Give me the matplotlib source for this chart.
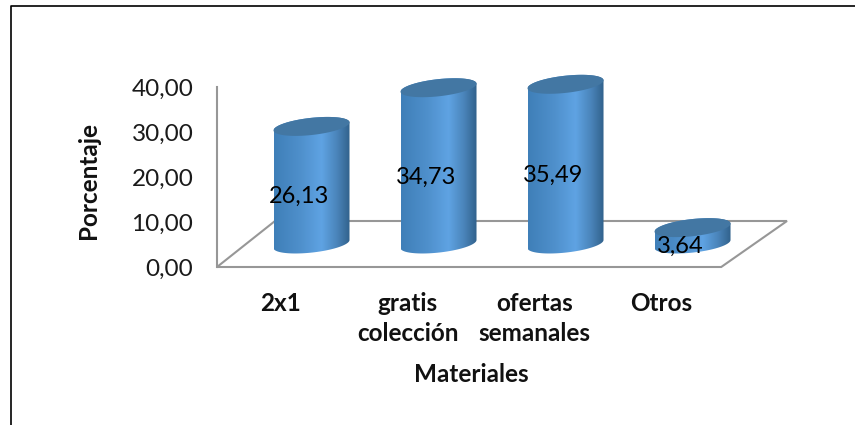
import numpy as np
import matplotlib
matplotlib.use('Agg')
import matplotlib.pyplot as plt
from matplotlib.colors import LinearSegmentedColormap
from matplotlib.lines import Line2D
from matplotlib.patches import Polygon

plt.rcParams['font.family'] = ['Lato', 'DejaVu Sans']

categorias = ['2x1', 'gratis\ncolección', 'ofertas\nsemanales', 'Otros']
porcentajes = [26.13, 34.73, 35.49, 3.64]
ticks_y = [0, 10, 20, 30, 40]

# floor depth and cylinder shape, in axis units
depth_x = 58 / 127
depth_y = 46 / 4.5
radio = 38 / 127
elipse_b = 8.6 / 4.5
elipse_k = 4 / 4.5

gris = '#979797'
cuerpo = LinearSegmentedColormap.from_list('cilindro', [
    (0.0, '#3f7fb8'), (0.35, '#4f90cc'), (0.62, '#5fa3e3'),
    (0.82, '#4a84ba'), (1.0, '#2f5f88')])
gradiente = np.linspace(0, 1, 256).reshape(1, -1)


def elipse(cx, cy, t):
    return (cx + radio * np.cos(t),
            cy + elipse_b * np.sin(t) + elipse_k * np.cos(t))


fig = plt.figure(figsize=(8.55, 4.25), dpi=100)
# the axes run above the 40 mark so the cylinder tops are not cut
ax = fig.add_axes([217 / 855, (425 - 267) / 425, 570 / 855, 202.5 / 425])

# wall and floor
ax.plot([-0.5, -0.5], [40, 0], color=gris, lw=1.5, clip_on=False, zorder=1)
ax.plot([-0.5 + depth_x, -0.5, 3.47, 3.988, -0.5 + depth_x],
        [depth_y, 0, 0, depth_y, depth_y],
        color=gris, lw=1.5, clip_on=False, zorder=1, solid_joinstyle='miter')

for i, valor in enumerate(porcentajes):
    cx = i + depth_x / 2 + 2 / 127
    base = depth_y / 2
    tope = base + valor

    abajo = np.linspace(np.pi, 2 * np.pi, 60)
    arriba = np.linspace(0, np.pi, 60)
    xb, yb = elipse(cx, base, abajo)
    xt, yt = elipse(cx, tope, arriba)
    borde = Polygon(np.column_stack([np.r_[xb, xt], np.r_[yb, yt]]),
                    closed=True, transform=ax.transData,
                    fc='none', ec='none')
    ax.add_patch(borde)
    im = ax.imshow(gradiente, cmap=cuerpo, aspect='auto', zorder=2,
                   extent=(cx - radio, cx + radio, base - 4, tope + 4))
    im.set_clip_path(borde)

    t = np.linspace(0, 2 * np.pi, 120)
    xe, ye = elipse(cx, tope, t)
    ax.fill(xe, ye, color='#4377a3', lw=0, zorder=3)

    ax.text(i + 19 / 127, valor / 2 + 12 / 4.5, f'{valor:.2f}'.replace('.', ','),
            ha='center', va='center', fontsize=17, color='black', zorder=4)

ax.set_xlim(-0.5, 3.988)
ax.set_ylim(0, 45)
for lado in ax.spines.values():
    lado.set_visible(False)
ax.patch.set_alpha(0)

ax.set_yticks(ticks_y)
ax.set_yticklabels([f'{v:.2f}'.replace('.', ',') for v in ticks_y],
                   fontsize=17.5, color='#1a1a1a')
ax.tick_params(axis='y', length=0, pad=17)
ax.set_xticks(range(len(categorias)))
ax.set_xticklabels(categorias, fontsize=17.5, fontweight='bold',
                   linespacing=1.35, color='#111111')
ax.tick_params(axis='x', length=0, pad=18)

ax.set_ylabel('Porcentaje', fontsize=17.5, fontweight='bold', color='#111111')
ax.yaxis.set_label_coords((88 - 217) / 570, (267 - 180) / 202.5)
ax.set_xlabel('Materiales', fontsize=17.5, fontweight='bold', color='#111111')
ax.xaxis.set_label_coords((471 - 217) / 570, (267 - 375) / 202.5)
ax.xaxis.label.set_va('center')
ax.yaxis.label.set_va('center')

# outer frame, open on the right and at the bottom
fig.add_artist(Line2D([10.5 / 855, 10.5 / 855, 1], [0, 1 - 5.5 / 425, 1 - 5.5 / 425],
                      color='black', lw=1.2, transform=fig.transFigure))

fig.savefig('out.png', dpi=100)
